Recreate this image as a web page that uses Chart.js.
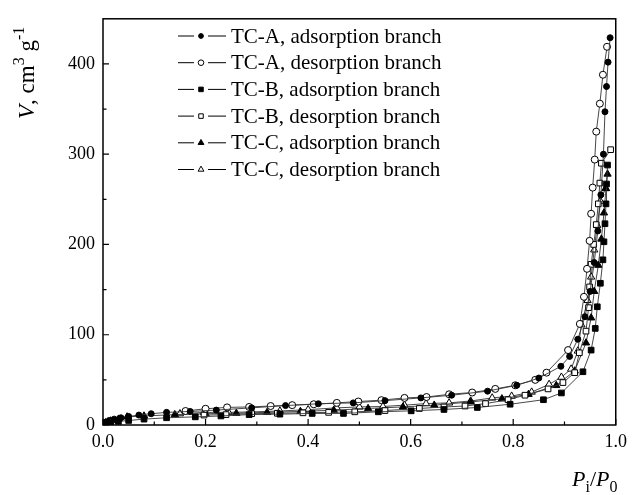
<!DOCTYPE html>
<html>
<head>
<meta charset="utf-8">
<script src="https://cdn.jsdelivr.net/npm/chart.js@4"></script>
<style>
  body { margin: 0; background: #fff; }
  canvas { display: block; }
</style>
</head>
<body>
<canvas id="isotherm" width="633" height="495"></canvas>
<script>
// Nitrogen isotherms: [P/P0, V in cm3 g-1]
const tcAAds = [[0.004,3],[0.012,5],[0.022,6.5],[0.035,8],[0.05,9.5],[0.07,11],[0.094,12.5],[0.124,14],[0.17,15],[0.221,16.5],[0.29,19],[0.356,21.5],[0.42,23.5],[0.488,24.5],[0.55,27],[0.62,30],[0.68,33],[0.75,37.5],[0.807,44],[0.85,52],[0.893,65],[0.91,76],[0.926,95],[0.94,120],[0.95,148],[0.958,180],[0.965,215],[0.971,255],[0.976,300],[0.979,347],[0.982,375],[0.985,402],[0.989,429]];
const tcADes = [[0.983,419],[0.975,388],[0.969,356],[0.962,325],[0.959,294],[0.955,263],[0.952,234],[0.949,204],[0.944,173],[0.938,142],[0.93,112],[0.907,83],[0.865,58],[0.843,50],[0.804,44],[0.765,40],[0.72,36],[0.675,34],[0.631,31],[0.588,30],[0.543,27.5],[0.498,26],[0.456,24.5],[0.411,23],[0.369,22],[0.327,21],[0.285,20],[0.242,19.5],[0.2,18],[0.161,15.5]];
const tcBAds = [[0.005,2],[0.015,3],[0.03,4],[0.05,5],[0.08,6.5],[0.124,8],[0.18,9],[0.23,10],[0.285,11.5],[0.345,12],[0.408,12.8],[0.469,12.8],[0.537,14.6],[0.601,15.7],[0.665,17.2],[0.73,19.4],[0.794,23],[0.859,28],[0.894,35.5],[0.936,59],[0.952,83],[0.96,107],[0.964,131],[0.97,157],[0.975,183],[0.977,203],[0.979,223],[0.981,245],[0.982,267],[0.984,288]];
const tcBDes = [[0.99,305],[0.972,290],[0.969,268],[0.966,245],[0.962,222],[0.957,200],[0.952,178],[0.949,153],[0.947,130],[0.942,104],[0.929,80],[0.92,58],[0.897,47],[0.868,40],[0.823,33],[0.79,28],[0.746,23.7],[0.706,21],[0.665,20],[0.617,18.3],[0.55,16],[0.491,14.6],[0.44,14],[0.39,13.5],[0.34,13],[0.29,12.5],[0.24,11.5],[0.197,11]];
const tcCAds = [[0.005,2.5],[0.015,4.5],[0.03,6.5],[0.047,9],[0.08,10],[0.14,11.5],[0.2,12.5],[0.26,13],[0.32,14],[0.385,15],[0.45,16.4],[0.517,18.3],[0.585,20],[0.646,22],[0.717,25.6],[0.778,29],[0.83,34],[0.884,43.8],[0.92,60],[0.942,91],[0.952,118.7],[0.958,148],[0.966,177],[0.972,206],[0.977,235],[0.981,262],[0.984,278]];
const tcCDes = [[0.98,262],[0.97,248],[0.964,221],[0.958,194],[0.952,164],[0.945,138],[0.933,111],[0.926,82],[0.913,62],[0.894,53],[0.87,45],[0.836,36.5],[0.797,32],[0.759,30],[0.717,26.6],[0.675,24.5],[0.63,23.7],[0.588,22],[0.546,20.5],[0.5,20],[0.456,19],[0.4,17],[0.345,15.5],[0.29,14.5],[0.245,14],[0.197,13.9],[0.15,12.5]];

const seriesLabels = [
  "TC-A, adsorption branch", "TC-A, desorption branch",
  "TC-B, adsorption branch", "TC-B, desorption branch",
  "TC-C, adsorption branch", "TC-C, desorption branch"
];
const seriesData = [tcAAds, tcADes, tcBAds, tcBDes, tcCAds, tcCDes];

const xMajorTicks = [0, 0.2, 0.4, 0.6, 0.8, 1.0];
const xMinorTicks = [0.1, 0.3, 0.5, 0.7, 0.9];
const yMajorTicks = [0, 100, 200, 300, 400];
const yMinorTicks = [50, 150, 250, 350];

// marker look for each series: shape, filled?, radius
const markers = [
  { style: "circle", filled: true, r: 3 },
  { style: "circle", filled: false, r: 3.5 },
  { style: "rect", filled: true, r: 4 },
  { style: "rect", filled: false, r: 4 },
  { style: "triangle", filled: true, r: 4.2 },
  { style: "triangle", filled: false, r: 4.2 }
];

const SERIF = "'Liberation Serif', 'Times New Roman', serif";

const datasets = seriesData.map((pts, i) => ({
  label: seriesLabels[i],
  data: pts.map(p => ({ x: p[0], y: p[1] })),
  showLine: true,
  borderColor: "#333",
  borderWidth: 0.9,
  pointStyle: markers[i].style,
  pointRadius: markers[i].r,
  pointBackgroundColor: markers[i].filled ? "#000" : "#fff",
  pointBorderColor: "#000",
  pointBorderWidth: 1
}));

// frame, inward ticks, axis titles and the legend
const decorations = {
  id: "decorations",
  afterDraw(chart) {
    const ctx = chart.ctx;
    const a = chart.chartArea;
    const xs = chart.scales.x, ys = chart.scales.y;
    ctx.save();
    ctx.strokeStyle = "#000";
    ctx.lineWidth = 1.5;
    ctx.strokeRect(a.left, a.top, a.right - a.left, a.bottom - a.top);

    ctx.lineWidth = 1.2;
    ctx.beginPath();
    xMajorTicks.forEach(v => { const px = xs.getPixelForValue(v); ctx.moveTo(px, a.bottom); ctx.lineTo(px, a.bottom - 6); });
    xMinorTicks.forEach(v => { const px = xs.getPixelForValue(v); ctx.moveTo(px, a.bottom); ctx.lineTo(px, a.bottom - 3.5); });
    yMajorTicks.forEach(v => { const py = ys.getPixelForValue(v); ctx.moveTo(a.left, py); ctx.lineTo(a.left + 6, py); });
    yMinorTicks.forEach(v => { const py = ys.getPixelForValue(v); ctx.moveTo(a.left, py); ctx.lineTo(a.left + 3.5, py); });
    ctx.stroke();

    ctx.fillStyle = "#000";
    ctx.textBaseline = "alphabetic";
    ctx.textAlign = "left";

    // y title, rotated: V, cm3 g-1
    ctx.save();
    ctx.translate(34, 119);
    ctx.rotate(-Math.PI / 2);
    let x = 0;
    const putY = (txt, font, dy) => { ctx.font = font; ctx.fillText(txt, x, dy); x += ctx.measureText(txt).width; };
    putY("V", "italic 23px " + SERIF, 0);
    putY(", cm", "23px " + SERIF, 0);
    putY("3", "16px " + SERIF, -10);
    putY(" g", "23px " + SERIF, 0);
    putY("-1", "16px " + SERIF, -10);
    ctx.restore();

    // x title: Pi/P0
    x = 572;
    const putX = (txt, font, dy) => { ctx.font = font; ctx.fillText(txt, x, 486 + dy); x += ctx.measureText(txt).width; };
    putX("P", "italic 22px " + SERIF, 0);
    putX("i", "16px " + SERIF, 6);
    putX("/", "22px " + SERIF, 0);
    putX("P", "italic 22px " + SERIF, 0);
    putX("0", "16px " + SERIF, 6);

    // legend
    ctx.textBaseline = "middle";
    seriesLabels.forEach((lab, i) => {
      const cy = 36 + i * 26.7;
      ctx.strokeStyle = "#000";
      ctx.lineWidth = 1;
      ctx.beginPath();
      ctx.moveTo(178, cy); ctx.lineTo(194, cy);
      ctx.moveTo(208, cy); ctx.lineTo(226, cy);
      ctx.stroke();
      const m = markers[i];
      ctx.fillStyle = m.filled ? "#000" : "#fff";
      Chart.helpers.drawPoint(ctx, { pointStyle: m.style, radius: m.r * 0.8, borderWidth: 1 }, 201, cy);
      ctx.fillStyle = "#000";
      ctx.font = "21px " + SERIF;
      ctx.fillText(lab, 231, cy + 1);
    });
    ctx.restore();
  }
};

new Chart(document.getElementById("isotherm"), {
  type: "scatter",
  data: { datasets },
  options: {
    responsive: false,
    animation: false,
    layout: { padding: { top: 14, right: 11, left: 0, bottom: 0 } },
    plugins: {
      legend: { display: false },
      tooltip: { enabled: false }
    },
    scales: {
      x: {
        type: "linear",
        min: 0,
        max: 1,
        afterBuildTicks: s => { s.ticks = xMajorTicks.map(v => ({ value: v })); },
        afterFit: s => { s.height = 70; },
        grid: { display: false, drawTicks: false },
        border: { display: false },
        ticks: {
          padding: 6,
          color: "#000",
          font: { family: SERIF, size: 18 },
          callback: v => v.toFixed(1)
        }
      },
      y: {
        type: "linear",
        min: 0,
        max: 450,
        afterBuildTicks: s => { s.ticks = yMajorTicks.map(v => ({ value: v })); },
        afterFit: s => { s.width = 103; },
        grid: { display: false, drawTicks: false },
        border: { display: false },
        ticks: {
          padding: 8,
          color: "#000",
          font: { family: SERIF, size: 18 }
        }
      }
    }
  },
  plugins: [decorations]
});
</script>
</body>
</html>
